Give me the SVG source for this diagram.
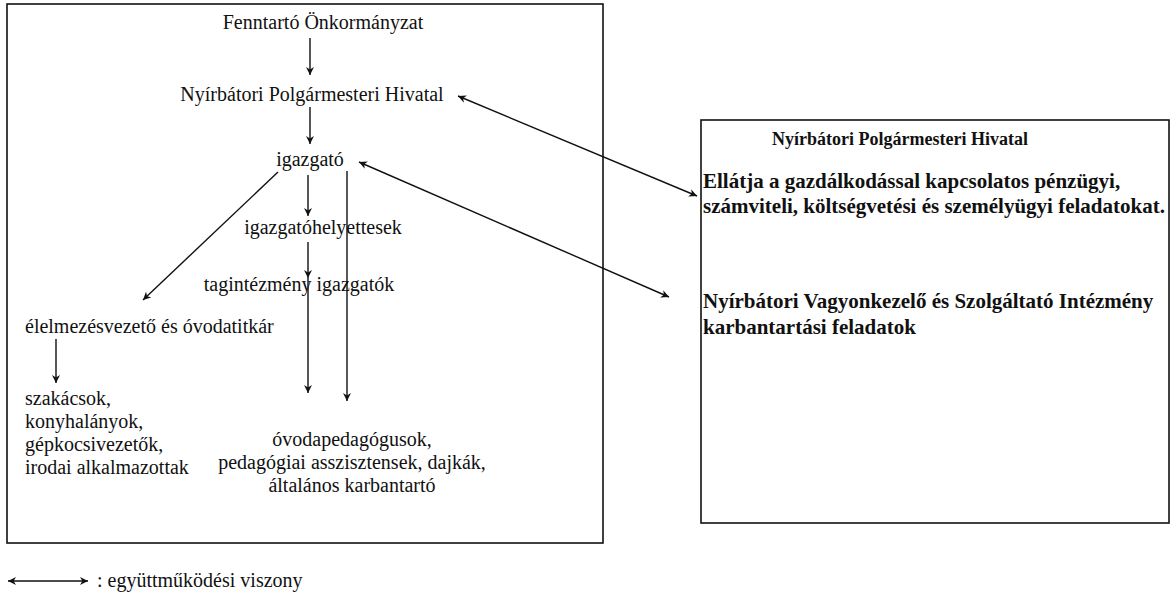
<svg xmlns="http://www.w3.org/2000/svg" width="1171" height="595" viewBox="0 0 1171 595">
<style>
  .t{font-family:"Liberation Serif","Times New Roman",serif;font-size:20px;fill:#111}
  .b{font-family:"Liberation Serif","Times New Roman",serif;font-size:21px;font-weight:bold;fill:#111}
  .bt{font-family:"Liberation Serif","Times New Roman",serif;font-size:18px;font-weight:bold;fill:#111}
  .box{fill:none;stroke:#111;stroke-width:1.6}
  .ln{fill:none;stroke:#111;stroke-width:1.4}
  .ar{marker-end:url(#ah)}
  .dar{marker-end:url(#ah);marker-start:url(#as)}
</style>
<defs>
  <marker id="ah" viewBox="0 0 10 10" refX="10" refY="5" markerWidth="9" markerHeight="8" markerUnits="userSpaceOnUse" orient="auto">
    <path d="M0,0 L10,5 L0,10 L3,5 z" fill="#111"/>
  </marker>
  <marker id="as" viewBox="0 0 10 10" refX="0" refY="5" markerWidth="9" markerHeight="8" markerUnits="userSpaceOnUse" orient="auto">
    <path d="M10,0 L0,5 L10,10 L7,5 z" fill="#111"/>
  </marker>
</defs>
<rect width="1171" height="595" fill="#fff"/>
<g id="left-box"><rect class="box" x="7" y="4" width="596" height="539"/></g>
<g id="right-box"><rect class="box" x="701" y="120" width="468" height="403"/></g>
<g id="fenntarto"><text class="t" x="323" y="29" text-anchor="middle">Fenntartó Önkormányzat</text></g>
<g id="hivatal"><text class="t" x="312" y="101" text-anchor="middle">Nyírbátori Polgármesteri Hivatal</text></g>
<g id="igazgato"><text class="t" x="310" y="166" text-anchor="middle">igazgató</text></g>
<g id="helyettesek"><text class="t" x="323" y="234" text-anchor="middle">igazgatóhelyettesek</text></g>
<g id="tagintezmeny"><text class="t" x="299" y="291" text-anchor="middle">tagintézmény igazgatók</text></g>
<g id="elelmezes"><text class="t" x="25" y="333">élelmezésvezető és óvodatitkár</text></g>
<g id="szakacsok">
  <text class="t" x="25" y="405">szakácsok,</text>
  <text class="t" x="25" y="428">konyhalányok,</text>
  <text class="t" x="25" y="451">gépkocsivezetők,</text>
  <text class="t" x="25" y="474">irodai alkalmazottak</text>
</g>
<g id="ovodapedagogusok">
  <text class="t" x="352" y="446" text-anchor="middle">óvodapedagógusok,</text>
  <text class="t" x="352" y="469" text-anchor="middle">pedagógiai asszisztensek, dajkák,</text>
  <text class="t" x="352" y="492" text-anchor="middle">általános karbantartó</text>
</g>
<g id="right-title"><text class="bt" x="900" y="145" text-anchor="middle">Nyírbátori Polgármesteri Hivatal</text></g>
<g id="ellatja">
  <text class="b" x="703" y="188">Ellátja a gazdálkodással kapcsolatos pénzügyi,</text>
  <text class="b" x="703" y="213">számviteli, költségvetési és személyügyi feladatokat.</text>
</g>
<g id="vagyonkezelo">
  <text class="b" x="703" y="308">Nyírbátori Vagyonkezelő és Szolgáltató Intézmény</text>
  <text class="b" x="703" y="334">karbantartási feladatok</text>
</g>
<g id="connectors">
  <line class="ln ar" x1="310" y1="38" x2="310" y2="75"/>
  <line class="ln ar" x1="310" y1="107" x2="310" y2="144"/>
  <line class="ln ar" x1="308" y1="175" x2="308" y2="216"/>
  <line class="ln ar" x1="308" y1="242" x2="308" y2="278"/>
  <line class="ln ar" x1="308" y1="278" x2="308" y2="393"/>
  <line class="ln ar" x1="347" y1="171" x2="347" y2="401"/>
  <line class="ln ar" x1="278" y1="172" x2="143" y2="300"/>
  <line class="ln ar" x1="56" y1="339" x2="56" y2="383"/>
  <line class="ln dar" x1="458" y1="96" x2="697" y2="196"/>
  <line class="ln dar" x1="359" y1="162" x2="669" y2="297"/>
</g>
<g id="legend">
  <line class="ln dar" x1="8" y1="581" x2="88" y2="581"/>
  <text class="t" x="97" y="587">: együttműködési viszony</text>
</g>
</svg>
